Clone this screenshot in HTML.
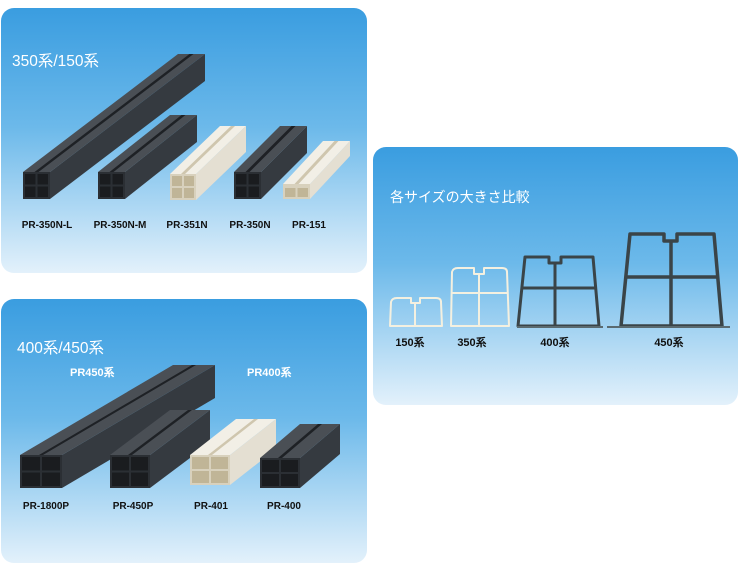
<!DOCTYPE html>
<html><head><meta charset="utf-8"><style>
html,body{margin:0;padding:0;background:#fff;width:742px;height:564px;overflow:hidden}
svg{display:block}
text{font-family:"Liberation Sans","Noto Sans CJK JP",sans-serif}
</style></head><body>
<svg id="s" width="742" height="564" viewBox="0 0 742 564" xmlns="http://www.w3.org/2000/svg">
<defs>
<linearGradient id="g" x1="0" y1="0" x2="0" y2="1">
<stop offset="0" stop-color="#3a9de0"/><stop offset="0.45" stop-color="#6cb9ea"/><stop offset="1" stop-color="#e3f1fb"/>
</linearGradient>
</defs>
<rect x="1" y="8" width="366" height="265" rx="13" fill="url(#g)"/>
<rect x="1" y="299" width="366" height="264" rx="13" fill="url(#g)"/>
<rect x="373" y="147" width="365" height="258" rx="13" fill="url(#g)"/>
<g fill="#fff" font-size="15.5">
<text x="12" y="66">350系/150系</text>
<text x="17" y="353">400系/450系</text>
</g>
<text x="390" y="202" fill="#fff" font-size="14">各サイズの大きさ比較</text>
<g fill="#fff" font-size="11" font-weight="bold">
<text x="70" y="376">PR450系</text>
<text x="247" y="376">PR400系</text>
</g>
<g fill="#111" font-size="10" font-weight="bold" text-anchor="middle">
<text x="47" y="228">PR-350N-L</text>
<text x="120" y="228">PR-350N-M</text>
<text x="187" y="228">PR-351N</text>
<text x="250" y="228">PR-350N</text>
<text x="309" y="228">PR-151</text>
<text x="46" y="509">PR-1800P</text>
<text x="133" y="509">PR-450P</text>
<text x="211" y="509">PR-401</text>
<text x="284" y="509">PR-400</text>
<text x="410" y="346" font-size="11">150系</text>
<text x="472" y="346" font-size="11">350系</text>
<text x="555" y="346" font-size="11">400系</text>
<text x="669" y="346" font-size="11">450系</text>
</g>
<g id="bars"></g>
<g fill="none" stroke-linejoin="round">
<path d="M390 326 L391 302 Q392 298 397 298 L411 298 L411 303 L420 303 L420 298 L436 298 Q441 298 441 302 L442 326 Z M415 303 L415 326" stroke="#f4f0e0" stroke-width="2"/>
<path d="M451 326 L452 272 Q453 268 458 268 L474 268 L474 274 L484 274 L484 268 L502 268 Q507 268 507 272 L509 326 Z M479 274 L479 326 M452 293 L507 293" stroke="#f4f0e0" stroke-width="2"/>
<path d="M518 326 L525 257 L549 257 L549 263 L561 263 L561 257 L593 257 L599 326 Z M555 263 L555 326 M521 288 L596 288" stroke="#3a4448" stroke-width="3"/>
<path d="M517 327 L603 327" stroke="#5a6a70" stroke-width="2"/>
<path d="M621 326 L630 234 L664 234 L664 241 L677 241 L677 234 L714 234 L722 326 Z M671 241 L671 326 M625 277 L718 277" stroke="#3a4448" stroke-width="3.5"/>
<path d="M607 327 L730 327" stroke="#5a6a70" stroke-width="2"/>
</g>
</svg>
<script>
var g=document.getElementById('bars'),ns='http://www.w3.org/2000/svg';
function p(pts,fill){var e=document.createElementNS(ns,'polygon');e.setAttribute('points',pts.map(function(a){return a.join(',')}).join(' '));e.setAttribute('fill',fill);g.appendChild(e);}
function r(x,y,w,h,fill){var e=document.createElementNS(ns,'rect');e.setAttribute('x',x);e.setAttribute('y',y);e.setAttribute('width',w);e.setAttribute('height',h);e.setAttribute('fill',fill);g.appendChild(e);}
function bar(fx,fy,w,h,dx,dy,white,holes){
 var top=white?'#f2efe6':'#4a4f55',side=white?'#e4dfd2':'#353a40',front=white?'#d8d1bd':'#2b2f34',hole=white?'#c0b597':'#1a1c1f';
 p([[fx+w,fy],[fx+w+dx,fy+dy],[fx+w+dx,fy+h+dy],[fx+w,fy+h]],side);
 p([[fx,fy],[fx+dx,fy+dy],[fx+w+dx,fy+dy],[fx+w,fy]],top);
 var c=fx+w/2;p([[c-2,fy],[c-2+dx,fy+dy],[c+2+dx,fy+dy],[c+2,fy]],white?'#cfc6ae':'#1e2125');
 r(fx,fy,w,h,front);
 var m=2,hw=(w-3*m)/2;
 if(holes==4){var hh=(h-3*m)/2;r(fx+m,fy+m,hw,hh,hole);r(fx+2*m+hw,fy+m,hw,hh,hole);r(fx+m,fy+2*m+hh,hw,hh,hole);r(fx+2*m+hw,fy+2*m+hh,hw,hh,hole);}
 else{r(fx+m,fy+m+2,hw,h-2*m-2,hole);r(fx+2*m+hw,fy+m+2,hw,h-2*m-2,hole);}
}
bar(23,172,27,27,155,-118,false,4);
bar(98,172,27,27,72,-57,false,4);
bar(170,174,26,26,50,-48,true,4);
bar(234,172,27,27,46,-46,false,4);
bar(283,184,27,15,40,-43,true,2);
bar(20,455,42,33,153,-90,false,4);
bar(110,455,40,33,60,-45,false,4);
bar(190,455,40,30,46,-36,true,4);
bar(260,458,40,30,40,-34,false,4);
</script>
</body></html>
